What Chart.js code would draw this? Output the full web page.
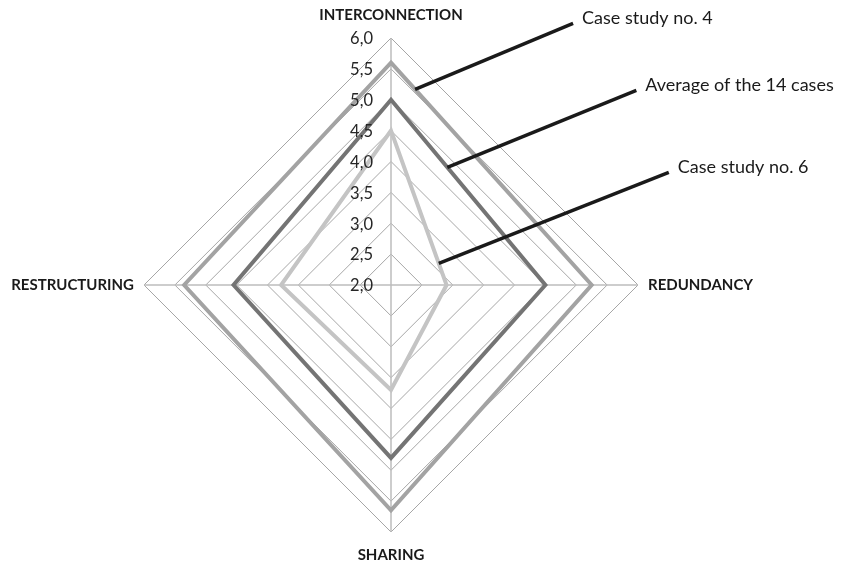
<!DOCTYPE html>
<html>
<head>
<meta charset="utf-8">
<script src="https://cdn.jsdelivr.net/npm/chart.js@4/dist/chart.umd.min.js"></script>
<style>
  html, body { margin: 0; padding: 0; background: #fff; }
  #wrap { width: 841px; height: 564px; }
</style>
</head>
<body>
<div id="wrap"><canvas id="radar"></canvas></div>
<script>
// categories, clockwise from the top
const axes = ["INTERCONNECTION", "REDUNDANCY", "SHARING", "RESTRUCTURING"];

// series values
const case4 = [5.6, 5.25, 5.65, 5.35];
const average14 = [5.0, 4.5, 4.8, 4.55];
const case6 = [4.5, 2.9, 3.7, 3.78];

// tick labels (comma decimals, as in the original)
const tickLabels = ["2,0", "2,5", "3,0", "3,5", "4,0", "4,5", "5,0", "5,5", "6,0"];

const FONT = "Lato, 'Open Sans', sans-serif";

// -----------------------------
// tick labels left of the vertical axis
// -----------------------------
const tickPlugin = {
  id: "sideTicks",
  afterDatasetsDraw(chart) {
    const scale = chart.scales.r;
    const ctx = chart.ctx;
    ctx.save();
    ctx.font = "16.5px " + FONT;
    ctx.fillStyle = "#262626";
    ctx.textAlign = "right";
    ctx.textBaseline = "middle";
    scale.ticks.forEach((t, i) => {
      const d = scale.getDistanceFromCenterForValue(t.value);
      ctx.fillText(tickLabels[i], scale.xCenter - 18, scale.yCenter - d + 1);
    });
    ctx.restore();
  },
};

// -----------------------------
// callout lines pointing at each series (top -> right edge)
// -----------------------------
const calloutPlugin = {
  id: "callouts",
  afterDatasetsDraw(chart, args, opts) {
    const scale = chart.scales.r;
    const ctx = chart.ctx;
    ctx.save();
    chart.data.datasets.forEach((ds, i) => {
      const c = opts.items[i];
      const a = scale.getPointPosition(0, scale.getDistanceFromCenterForValue(ds.data[0]));
      const b = scale.getPointPosition(1, scale.getDistanceFromCenterForValue(ds.data[1]));
      const sx = a.x + (b.x - a.x) * c.t;
      const sy = a.y + (b.y - a.y) * c.t;
      const ex = sx + c.dx;
      const ey = sy + c.dy;
      ctx.strokeStyle = "#1a1a1a";
      ctx.lineWidth = 3.5;
      ctx.beginPath();
      ctx.moveTo(sx, sy);
      ctx.lineTo(ex, ey);
      ctx.stroke();
      ctx.font = "18px " + FONT;
      ctx.fillStyle = "#1a1a1a";
      ctx.textAlign = "left";
      ctx.textBaseline = "middle";
      ctx.fillText(ds.label, ex + 9, ey - 5);
    });
    ctx.restore();
  },
};

new Chart(document.getElementById("radar"), {
  type: "radar",
  data: {
    labels: axes,
    datasets: [
      {
        label: "Case study no. 4",
        data: case4,
        borderColor: "#a3a3a3",
      },
      {
        label: "Average of the 14 cases",
        data: average14,
        borderColor: "#747474",
      },
      {
        label: "Case study no. 6",
        data: case6,
        borderColor: "#c4c4c4",
      },
    ],
  },
  options: {
    responsive: true,
    maintainAspectRatio: false,
    animation: false,
    // right padding leaves room for the callout texts
    layout: { padding: { top: 6, bottom: 0, left: 0, right: 75 } },
    elements: {
      line: { borderWidth: 4, fill: false, tension: 0, borderJoinStyle: "miter" },
      point: { radius: 0, hoverRadius: 0 },
    },
    plugins: {
      legend: { display: false },
      tooltip: { enabled: false },
      callouts: {
        items: [
          { t: 0.12, dx: 158, dy: -66 },
          { t: 0.365, dx: 189, dy: -77 },
          { t: 0.86, dx: 230, dy: -91 },
        ],
      },
    },
    scales: {
      r: {
        min: 2,
        max: 6,
        beginAtZero: false,
        ticks: { stepSize: 0.5, display: false },
        grid: { circular: false, color: "#a6a6a6", lineWidth: 1 },
        angleLines: { color: "#bdbdbd", lineWidth: 1.5 },
        pointLabels: {
          font: { family: FONT, size: 15, weight: "bold" },
          color: "#1a1a1a",
          padding: (ctx) => (ctx.index % 2 === 0 ? 14 : 10),
        },
      },
    },
  },
  plugins: [tickPlugin, calloutPlugin],
});
</script>
</body>
</html>
